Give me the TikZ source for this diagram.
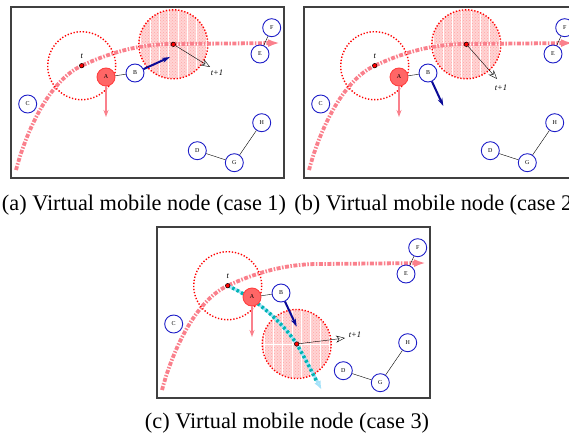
\documentclass[tikz,border=0pt]{standalone}
\usepackage{fontspec}
\setmainfont{Liberation Serif}
\usetikzlibrary{arrows.meta,patterns}

\definecolor{trajpink}{RGB}{250,128,140}
\definecolor{nodeblue}{RGB}{30,30,200}
\definecolor{arrowblue}{RGB}{10,10,150}
\definecolor{trajcyan}{RGB}{0,180,180}

\tikzset{
  sensor/.style={circle, draw=nodeblue, line width=0.9pt, fill=white, minimum size=18pt, inner sep=0pt, font=\fontsize{6}{6}\selectfont},
  vmn/.style={circle, draw=red!75, fill=red!60, line width=0.9pt, minimum size=18pt, inner sep=0pt, font=\fontsize{6}{6}\selectfont},
  track/.style={trajpink, line width=3.8pt, dash pattern=on 4pt off 1.5pt on 1.5pt off 1.5pt},
  region/.style={red, line width=1.4pt, dash pattern=on 1.3pt off 1.8pt},
  loc/.style={circle, draw=black, fill=red, line width=0.5pt, inner sep=0pt, minimum size=4.5pt},
  tlabel/.style={font=\fontsize{8.5}{8.5}\selectfont\itshape},
  caption/.style={font=\fontsize{22.3}{25}\selectfont, anchor=base},
}

% hatched region of the virtual node at time t+1
\newcommand{\nextregion}[1]{%
  \begin{scope}[shift={#1}]
    \fill[red!17] (0,0) circle (34.5);
    \fill[pattern=crosshatch dots, pattern color=red!35] (0,0) circle (34.5);
    \begin{scope}
      \clip (0,0) circle (34.5);
      \foreach \dx in {-32.5,-23.2,...,33} \draw[white, line width=0.8pt] (\dx,-35) -- (\dx,35);
      \draw[white, line width=0.6pt] (-35,0) -- (35,0);
    \end{scope}
    \draw[region] (0,0) circle (34.5);
  \end{scope}
}

% trajectory and region at time t
\newcommand{\scenetrack}{%
  \draw[track, -{Latex[length=12pt,width=8pt]}] (5,163) .. controls (18,115) and (42,72) .. (70.7,58.7)
     .. controls (95,47.5) and (125,37) .. (162,37) -- (269,36);
  \draw[region] (70.7,58.7) circle (34);
}

% the sensor nodes
\newcommand{\scenenodes}{%
  \node[loc] (t) at (70.7,58.7) {};
  \node[tlabel, above=1pt] at (t.north) {t};
  \node[vmn] (A) at (95,70) {A};
  \node[sensor] (B) at (124,66) {B};
  \node[sensor] (C) at (16.7,97) {C};
  \node[sensor] (D) at (186.3,143.7) {D};
  \node[sensor] (E) at (249,47) {E};
  \node[sensor] (F) at (260.7,20.7) {F};
  \node[sensor] (G) at (223.3,155.7) {G};
  \node[sensor] (H) at (250.7,115.7) {H};
  \draw (A) -- (B) (D) -- (G) -- (H) (E) -- (F);
  \coordinate (Adown) at (95,110);
  \draw[trajpink, line width=1.6pt, -{Stealth[length=7pt,width=5pt]}] (A) -- (Adown);
}

\begin{document}
\begin{tikzpicture}[x=1pt, y=-1pt]
  \path[use as bounding box, clip] (0,0) rectangle (569,433);

  % (a) case 1
  \begin{scope}[shift={(11,7)}, name prefix=a-]
    \draw[black!75, line width=1.2pt] (0,0) rectangle (273,171);
    \nextregion{(162.3,37.3)}
    \scenetrack
    \node[loc] (next) at (162.3,37.3) {};
    \coordinate (nextdir) at (199,60);
    \draw[-{Stealth[open,length=9pt,width=7pt]}] (next) -- (nextdir);
    \node[tlabel] at (206,66) {t+1};
    \scenenodes
    \coordinate (Bdir) at (159,50);
    \draw[arrowblue, line width=2pt, -{Stealth[length=8pt,width=5pt]}] (B) -- (Bdir);
  \end{scope}

  % (b) case 2
  \begin{scope}[shift={(304,7)}, name prefix=b-]
    \draw[black!75, line width=1.2pt] (0,0) rectangle (273,171);
    \nextregion{(162.3,37.3)}
    \scenetrack
    \node[loc] (next) at (162.3,37.3) {};
    \coordinate (nextdir) at (193,72);
    \draw[-{Stealth[open,length=9pt,width=7pt]}] (next) -- (nextdir);
    \node[tlabel] at (197,81) {t+1};
    \scenenodes
    \coordinate (Bdir) at (139.3,99);
    \draw[arrowblue, line width=2pt, -{Stealth[length=8pt,width=5pt]}] (B) -- (Bdir);
  \end{scope}

  % (c) case 3
  \begin{scope}[shift={(157,227)}, name prefix=c-]
    \draw[black!75, line width=1.2pt] (0,0) rectangle (273,171);
    \scenetrack
    \nextregion{(139.7,117)}
    \draw[cyan!35, line width=3pt, -{Latex[open,length=9pt,width=7pt]}] (70.7,58.7) .. controls (100,72) and (125,95) .. (139.7,117)
       .. controls (150,135) and (158,150) .. (164.7,163);
    \draw[trajcyan, line width=3.5pt, dash pattern=on 2.5pt off 2.5pt] (70.7,58.7) .. controls (100,72) and (125,95) .. (139.7,117)
       .. controls (149,133) and (155,145) .. (160,155);
    \node[loc] (next) at (139.7,117) {};
    \coordinate (nextdir) at (188,111);
    \draw[-{Stealth[open,length=9pt,width=7pt]}] (next) -- (nextdir);
    \node[tlabel] at (198,108) {t+1};
    \scenenodes
    \coordinate (Bdir) at (139.7,99.7);
    \draw[arrowblue, line width=2pt, -{Stealth[length=8pt,width=5pt]}] (B) -- (Bdir);
  \end{scope}

  % captions
  \node[caption] (capa) at (144,210) {(a) Virtual mobile node (case 1)};
  \node[caption] (capb) at (437,210) {(b) Virtual mobile node (case 2)};
  \node[caption] (capc) at (287,428) {(c) Virtual mobile node (case 3)};
\end{tikzpicture}
\end{document}
